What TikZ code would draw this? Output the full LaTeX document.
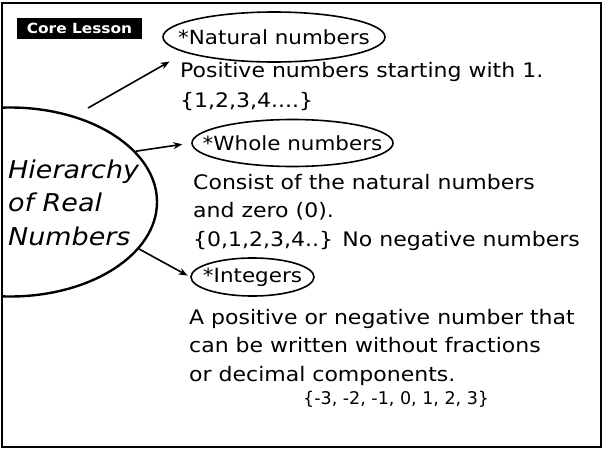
\documentclass[tikz,border=0pt]{standalone}
\usepackage{fontspec}
\setmainfont[FakeStretch=1.1]{DejaVu Sans}
\newfontfamily\plainset{DejaVu Sans}
\usetikzlibrary{shapes.geometric,arrows.meta}
\begin{document}
\begin{tikzpicture}[x=1pt,y=-1pt,
  oval/.style={draw,ellipse,line width=1.6pt,inner xsep=-20pt,inner ysep=0pt,font=\fontsize{19.5}{19.5}\selectfont},
  body/.style={anchor=base west,align=left,inner sep=0pt,font=\fontsize{20}{28.5}\selectfont},
  link/.style={-{Stealth[length=9pt,width=7pt]},line width=1.6pt}]
\useasboundingbox (0,0) rectangle (610,450);
\draw[line width=1.8pt] (2,3) rectangle (601,447);
\begin{scope}
\clip (2,3) rectangle (601,447);
\node[draw,ellipse,line width=2.4pt,inner sep=0pt,minimum width=294pt,minimum height=189pt] (hier) at (10,202) {};
\end{scope}
% anchor = baseline of the last line
\node[anchor=base west,inner sep=0pt,align=left,font=\fontsize{24.5}{33.5}\selectfont\itshape] (htext) at (8,245) {Hierarchy\\of Real\\Numbers};
\node[fill=black,text=white,font=\fontsize{14}{14}\selectfont\bfseries,inner sep=0pt,minimum width=125pt,minimum height=21pt] (core) at (79.5,28.5) {Core Lesson};
% Natural
\node[oval,minimum width=222pt,minimum height=50pt] (nat) at (274,37) {*Natural numbers};
\node[body,font=\fontsize{20}{30}\selectfont] (natd) at (180,107) {Positive numbers starting with 1.\\\{1,2,3,4....\}};
% Whole
\node[oval,minimum width=201pt,minimum height=47pt] (whole) at (292.5,143) {*Whole numbers};
\node[body] (wholed) at (193,246) {Consist of the natural numbers\\and zero (0).\\\{0,1,2,3,4..\} No negative numbers};
% Integers
\node[oval,minimum width=123pt,minimum height=38pt] (int) at (252.5,277) {*Integers};
\node[body] (intd) at (189,381) {A positive or negative number that\\can be written without fractions\\or decimal components.};
\node[anchor=base west,inner sep=0pt,font=\plainset\fontsize{17.5}{18}\selectfont] (intset) at (303,404) {\{-3, -2, -1, 0, 1, 2, 3\}};
% arrows
\coordinate (t1) at (88,108);
\draw[link,shorten >=18pt] (t1) -- (nat.190);
\draw[link,shorten >=9pt] (hier.22) -- (whole.west);
\draw[link,shorten >=3pt] (hier.-20) -- (int.west);
\end{tikzpicture}
\end{document}
